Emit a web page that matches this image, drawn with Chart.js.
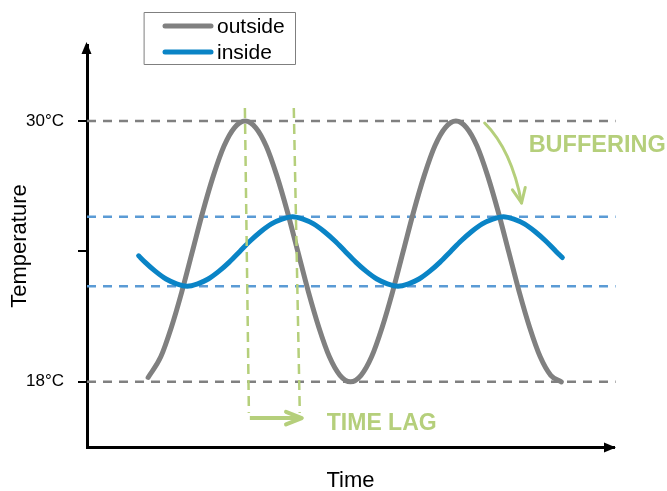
<!DOCTYPE html>
<html><head><meta charset="utf-8">
<script src="https://cdn.jsdelivr.net/npm/chart.js@4"></script>
<style>html,body{margin:0;padding:0;background:#fff;}</style>
</head><body>
<canvas id="c" width="667" height="491"></canvas>
<script>
// ---- data ----
const seriesLabels = ['outside', 'inside'];
const outsideTime = [5.8, 7, 8, 9, 10, 11, 12, 13, 14, 15, 16, 17, 18, 19, 20, 21, 22, 23, 24, 25,
  26, 27, 28, 29, 30, 31, 32, 33, 34, 35, 36, 37, 38, 39, 40, 41, 42, 43, 44, 45];
const outsideTemp = [18.2, 19.15, 20.5, 22.15, 24.0, 25.85, 27.5, 28.85, 29.7, 30.0, 29.7, 28.85, 27.5, 25.85, 24.0, 22.15, 20.5, 19.15, 18.3, 18.0,
  18.3, 19.15, 20.5, 22.15, 24.0, 25.85, 27.5, 28.85, 29.7, 30.0, 29.7, 28.85, 27.5, 25.85, 24.0, 22.15, 20.5, 19.15, 18.3, 18.0];
const insideTime = [4.9, 5.5, 6.5, 7.5, 8.5, 9.5, 10.5, 11.5, 12.5, 13.5, 14.5, 15.5, 16.5, 17.5, 18.5, 19.5, 20.5, 21.5, 22.5, 23.5, 24.5,
  25.5, 26.5, 27.5, 28.5, 29.5, 30.5, 31.5, 32.5, 33.5, 34.5, 35.5, 36.5, 37.5, 38.5, 39.5, 40.5, 41.5, 42.5, 43.5, 44.5, 45.1];
const insideTemp = [23.8, 23.51, 23.08, 22.73, 22.51, 22.4, 22.51, 22.73, 23.08, 23.51, 24.0, 24.49, 24.92, 25.27, 25.49, 25.6, 25.49, 25.27, 24.92, 24.49, 24.0,
  23.51, 23.08, 22.73, 22.51, 22.4, 22.51, 22.73, 23.08, 23.51, 24.0, 24.49, 24.92, 25.27, 25.49, 25.6, 25.49, 25.27, 24.92, 24.49, 24.0, 23.72];
const outsideRange = [30, 18];      // grey dashed reference levels
const insideRange = [25.6, 22.4];   // blue dashed reference levels
const yTickValues = [18, 24, 30];
const yTickLabels = ['18°C', '', '30°C'];
const axisTitles = ['Time', 'Temperature'];
const timeSpan = [0, 50];
const refLineEnd = 50.15;
const tempSpan = [15, 33.5];
// time-lag guides (time at top, time at bottom), levels
const lagTopTime = [14.98, 19.62];
const lagBottomTime = [15.36, 20.19];
const lagGuideTemps = [30.6, 16.57];
const lagArrow = {from: 15.45, to: 20.38, temp: 16.33};
const lagText = {label: 'TIME LAG', time: 22.75, temp: 16.08};
const bufferText = {label: 'BUFFERING', time: 41.9, temp: 28.87};
const bufferArrow = [[37.73, 29.91], [40.28, 28.67], [41.23, 26.23]];

const FONT = "'Liberation Sans', Arial, Helvetica, sans-serif";
const GREY = '#808080';
const BLUE = '#0a84c6';
const LBLUE = '#5b9bd5';
const GREEN = '#b5cf7b';

const pts = (xs, ys) => xs.map((v, i) => ({x: v, y: ys[i]}));
const hline = (v) => [{x: timeSpan[0], y: v}, {x: refLineEnd, y: v}];

const datasets = [
  {label: seriesLabels[0], data: pts(outsideTime, outsideTemp), borderColor: GREY, borderWidth: 5, cubicInterpolationMode: 'monotone', order: 2, borderCapStyle: 'round'},
  {label: seriesLabels[1], data: pts(insideTime, insideTemp), borderColor: BLUE, borderWidth: 5, cubicInterpolationMode: 'monotone', order: 1, borderCapStyle: 'round'},
  {label: 'ref1', data: hline(outsideRange[0]), borderColor: GREY, borderWidth: 2.5, borderDash: [9, 7], order: 5, clip: false},
  {label: 'ref2', data: hline(outsideRange[1]), borderColor: GREY, borderWidth: 2.5, borderDash: [9, 7], order: 5, clip: false},
  {label: 'ref3', data: hline(insideRange[0]), borderColor: LBLUE, borderWidth: 2.5, borderDash: [9, 7], order: 5, clip: false},
  {label: 'ref4', data: hline(insideRange[1]), borderColor: LBLUE, borderWidth: 2.5, borderDash: [9, 7], order: 5, clip: false},
  {label: 'lag1', data: [{x: lagTopTime[0], y: lagGuideTemps[0]}, {x: lagBottomTime[0], y: lagGuideTemps[1]}], borderColor: GREEN, borderWidth: 2.5, borderDash: [10, 6], order: 0},
  {label: 'lag2', data: [{x: lagTopTime[1], y: lagGuideTemps[0]}, {x: lagBottomTime[1], y: lagGuideTemps[1]}], borderColor: GREEN, borderWidth: 2.5, borderDash: [10, 6], order: 0},
  {label: 'lagArrow', data: [{x: lagArrow.from, y: lagArrow.temp}, {x: lagArrow.to - 0.15, y: lagArrow.temp}], borderColor: GREEN, borderWidth: 4, order: 0}
];

function chevron(ctx, tipX, tipY, dx, dy, len, spread) {
  const ang = Math.atan2(dy, dx);
  ctx.beginPath();
  ctx.moveTo(tipX - len * Math.cos(ang - spread), tipY - len * Math.sin(ang - spread));
  ctx.lineTo(tipX, tipY);
  ctx.lineTo(tipX - len * Math.cos(ang + spread), tipY - len * Math.sin(ang + spread));
  ctx.stroke();
}

const deco = {
  id: 'deco',
  afterDraw(chart) {
    const {ctx, chartArea: a, scales: {x, y}} = chart;
    ctx.save();
    // axis arrowheads
    ctx.fillStyle = '#000';
    ctx.beginPath();
    ctx.moveTo(a.left - 0.5, a.top - 3); ctx.lineTo(a.left - 5.5, a.top + 9); ctx.lineTo(a.left + 4.5, a.top + 9);
    ctx.closePath(); ctx.fill();
    ctx.beginPath();
    ctx.moveTo(a.right + 2, a.bottom + 0.5); ctx.lineTo(a.right - 10, a.bottom - 4.5); ctx.lineTo(a.right - 10, a.bottom + 5.5);
    ctx.closePath(); ctx.fill();

    // time-lag arrowhead
    ctx.strokeStyle = GREEN; ctx.lineCap = 'round'; ctx.lineJoin = 'round';
    ctx.lineWidth = 4;
    chevron(ctx, x.getPixelForValue(lagArrow.to), y.getPixelForValue(lagArrow.temp), 1, 0, 17, 0.38);

    // buffering curved arrow
    const P = bufferArrow.map(p => [x.getPixelForValue(p[0]), y.getPixelForValue(p[1])]);
    ctx.lineWidth = 3;
    ctx.beginPath();
    ctx.moveTo(P[0][0], P[0][1]);
    ctx.quadraticCurveTo(P[1][0], P[1][1], P[2][0], P[2][1]);
    ctx.stroke();
    chevron(ctx, P[2][0], P[2][1], P[2][0] - P[1][0], P[2][1] - P[1][1], 16, 0.42);

    // green labels
    ctx.fillStyle = GREEN;
    ctx.textBaseline = 'middle'; ctx.textAlign = 'left';
    ctx.font = 'bold 23px ' + FONT;
    ctx.fillText(lagText.label, x.getPixelForValue(lagText.time), y.getPixelForValue(lagText.temp));
    ctx.font = 'bold 23.5px ' + FONT;
    ctx.fillText(bufferText.label, x.getPixelForValue(bufferText.time), y.getPixelForValue(bufferText.temp));

    // legend box
    ctx.strokeStyle = '#7f7f7f'; ctx.lineWidth = 1;
    ctx.strokeRect(144.5, 12.5, 151, 52);
    ctx.font = '21px ' + FONT; ctx.fillStyle = '#000';
    [0, 1].forEach(i => {
      const ds = chart.data.datasets[i];
      const ly = 26 + i * 26;
      ctx.strokeStyle = ds.borderColor; ctx.lineWidth = 5; ctx.lineCap = 'round';
      ctx.beginPath(); ctx.moveTo(165, ly); ctx.lineTo(211, ly); ctx.stroke();
      ctx.fillText(ds.label, 217, ly + 1);
    });
    ctx.restore();
  }
};

new Chart(document.getElementById('c'), {
  type: 'line',
  data: {datasets},
  plugins: [deco],
  options: {
    responsive: false,
    animation: false,
    devicePixelRatio: 1,
    layout: {padding: {left: 0, right: 53, top: 45, bottom: 0}},
    elements: {point: {radius: 0, hoverRadius: 0}, line: {fill: false}},
    plugins: {legend: {display: false}, tooltip: {enabled: false}},
    events: [],
    scales: {
      x: {
        type: 'linear', min: timeSpan[0], max: timeSpan[1],
        grid: {display: false},
        border: {display: true, color: '#000', width: 3},
        ticks: {display: false},
        title: {display: true, text: axisTitles[0], color: '#000', font: {family: FONT, size: 22, lineHeight: 0.92}, padding: 0},
        afterFit(s) { s.height = 44; }
      },
      y: {
        type: 'linear', min: tempSpan[0], max: tempSpan[1],
        afterBuildTicks(s) { s.ticks = yTickValues.map(v => ({value: v})); },
        grid: {display: true, drawOnChartArea: false, drawTicks: true, tickLength: 9, color: '#000', lineWidth: 2},
        border: {display: true, color: '#000', width: 3},
        ticks: {
          color: '#000', padding: 14, font: {family: FONT, size: 17},
          callback: (v) => { const i = yTickValues.indexOf(v); return i >= 0 ? yTickLabels[i] : ''; }
        },
        title: {display: true, text: axisTitles[1], color: '#000', font: {family: FONT, size: 22, lineHeight: 1}, padding: {top: 9, bottom: 0}},
        afterFit(s) { s.width = 87; }
      }
    }
  }
});
</script>
</body></html>
